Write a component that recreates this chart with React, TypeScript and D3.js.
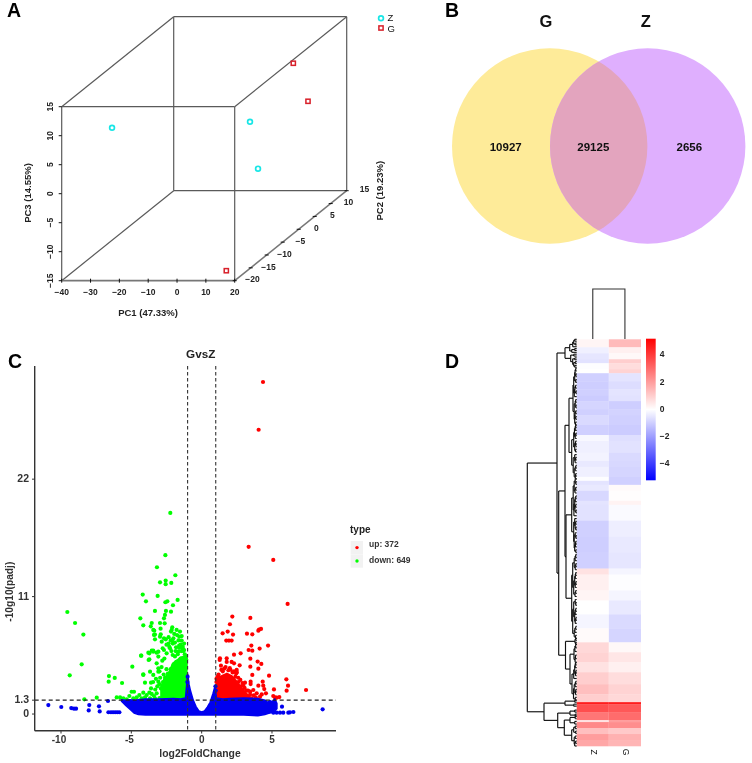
import React from "react";
import * as d3 from "d3";

// ---------- Panel A ----------
const pcaLabels = ["Z", "Z", "Z", "G", "G", "G"];
const pc1 = [-29.2, -2.44, 2.56, 7.03, 14.35, 15.98];
const pc2 = [-14, 5, 3, 10, 8, -19];
const pc3 = [8.72, 1.33, -5.88, 9.19, 3.52, -13.72];
const pc1Ticks = [-40, -30, -20, -10, 0, 10, 20];
const pc2Ticks = [-20, -15, -10, -5, 0, 5, 10, 15];
const pc3Ticks = [-15, -10, -5, 0, 5, 10, 15];

// ---------- Panel B ----------
const vennSets = ["G", "Z"];
const vennCounts = [10927, 29125, 2656];

// ---------- Panel C ----------
const volXTicks = [-10, -5, 0, 5];
const volYTicks = [0, 1.3, 11, 22];
const legendItems = ["up: 372", "down: 649"];
const upX = [4.36,4.05,3.34,5.09,6.11,2.18,3.46,2.01,4.22,4.08,4.03,1.85,1.49,2.23,3.22,3.6,1.75,1.94,2.13,4.72,3.53,3.34,3.6,4.12,2.77,2.3,1.3,1.28,1.78,1.78,2.13,2.3,3.46,3.98,4.24,1.37,2.7,3.46,4.03,2.49,4.79,3.6,6.02,6.14,6.04,7.42,5.14,4.34,3.48,3.08,3.48,4.38,4.03,4.45,3.67,3.91,3.44,4.27,4.57,5.09,5.52,5.21,5.33,3.32,3.55,4.15,2.6,2.8,2.9,3.0,3.1,2.4,2.2,1.9,1.5,1.2,1.1,2.0,2.3,2.45,1.6,2.75,3.2,2.95,1.05,1.15,2.9,3.05,3.3,3.45,3.7,3.85,2.6,1.05,1.4,1.7,2.05,2.5];
const upY = [31.1,26.63,15.66,14.44,10.31,9.13,9.0,8.41,7.97,7.91,7.81,7.72,7.56,7.44,7.53,7.47,6.88,6.88,6.88,6.41,6.41,6.0,5.94,6.13,5.69,5.56,5.22,5.06,5.22,4.88,4.88,4.75,5.19,4.91,4.69,4.53,4.56,4.44,4.25,4.13,3.59,3.66,3.25,2.66,2.19,2.25,2.31,3.03,3.03,2.94,2.81,2.66,2.66,2.34,2.25,1.94,1.81,1.84,1.94,1.69,1.59,1.56,1.53,1.56,1.47,1.63,3.0,2.6,2.2,2.0,1.8,3.5,3.9,4.1,4.0,3.7,3.4,4.3,4.0,3.8,4.25,3.2,2.2,2.7,3.0,3.5,2.9,2.45,2.2,2.1,1.75,1.55,3.4,3.3,4.15,4.4,4.15,3.9];
const downX = [-2.23,-2.58,-3.18,-1.87,-2.96,-2.56,-2.56,-2.16,-4.19,-3.13,-1.71,-3.96,-2.58,-2.44,-2.04,-3.32,-2.54,-2.18,-9.55,-4.36,-2.61,-2.68,-9.0,-3.55,-4.15,-3.62,-2.96,-2.63,-8.41,-3.37,-2.92,-2.09,-2.18,-3.32,-2.96,-3.32,-2.68,-8.53,-9.38,-6.59,-6.61,-6.18,-5.66,-4.93,-8.34,-7.46,-4.29,-4.15,-3.77,-3.79,-3.55,-3.44,-3.2,-3.44,-3.39,-2.91,-2.13,-1.78,-1.54,-1.59,-2.01,-1.9,-1.42,-2.84,-2.77,-2.25,-1.82,-1.35,-1.66,-3.08,-3.44,-3.72,-4.31,-3.72,-3.08,-2.68,-2.49,-2.06,-3.2,-3.08,-4.15,-3.44,-3.08,-3.67,-4.03,-3.6,-3.08,-6.04,-5.8,-5.57,-5.33,-5.14,-4.98,-4.81,-4.62,-4.43,-4.15,-3.91,-3.72,-3.55,-3.39,-3.2,-4.03,-4.27,-4.86,-3.67,-3.32,-2.9,-2.75,-2.6,-2.4,-2.2,-2,-1.8,-1.5,-1.2,-1.1,-3.0,-3.0,-2.7,-2.5,-1.9,-1.7,-1.3,-1.15,-2.35,-1.6,-1.25,-2.1,-2.35,-2.2,-2.05,-1.95,-1.75,-1.65,-1.5,-1.35,-1.25,-1.45,-1.6,-1.85,-2.15,-2.3,-2.5,-2.55,-2.65,-2.8,-2.85,-3.0,-2.95,-3.25,-3.45,-3.15,-3.3,-3.6,-1.42];
const downY = [18.84,14.88,13.75,13.0,12.34,12.5,12.16,12.28,11.19,11.06,10.69,10.56,10.47,10.56,10.19,9.66,9.66,9.59,9.56,8.97,9.28,8.97,8.53,8.53,8.31,8.22,8.53,8.5,7.44,7.81,8.0,8.13,7.72,7.44,7.25,7.0,7.09,4.66,3.63,3.56,3.03,3.38,2.91,4.44,1.38,1.53,5.47,3.66,5.06,5.75,5.94,5.84,5.75,7.88,7.41,7.47,7.88,7.88,7.72,7.25,7.09,6.69,6.88,6.78,6.16,6.16,6.25,6.16,5.84,5.84,5.94,5.69,5.47,5.13,5.38,6.0,5.69,5.53,4.75,4.28,3.72,3.66,3.97,3.97,2.94,2.94,3.03,1.56,1.56,1.47,1.38,1.69,2.09,2.09,1.56,1.78,2.0,1.78,2.0,1.88,1.69,1.94,1.56,1.47,1.47,1.47,1.47,2.4,3.0,3.4,3.8,4.2,4.6,4.9,5.2,5.6,5.1,1.5,2.8,3.7,4.2,5.4,5.6,5.9,4.6,6.6,6.4,6.6,6.9,7.2,6.9,6.6,7.5,7.4,6.9,6.5,6.3,6.0,5.9,6.2,5.9,5.9,6.3,6.5,7.0,5.2,5.0,4.4,4.0,3.4,3.3,3.0,2.6,2.3,2.4,7.3];
const otherX = [-10.9,-9.98,-9.27,-9.08,-8.93,-7.99,-8.03,-7.3,-7.25,-6.66,-6.63,-6.45,-6.3,-6.15,-6,-5.85,8.6,5.71,6.52,6.28,6.16,5.8,5.57,5.33,5.1,-1.0,-1.02,0.98,1.0];
const otherY = [0.84,0.66,0.56,0.5,0.5,0.84,0.34,0.72,0.25,1.22,0.17,0.17,0.17,0.17,0.17,0.17,0.44,0.69,0.19,0.16,0.13,0.13,0.13,0.13,0.13,3.5,3.0,2.6,2.2];
// dense, fully overplotted clouds: outlines
const blueX = [-5.7,-5.4,-5.1,-4.8,-4.5,-4,-3,-2,-1.5,-1.15,-1.05,-1,-0.9,-0.8,-0.6,-0.4,-0.2,0,0.2,0.4,0.6,0.8,0.95,1.05,1.5,2,3,4,4.5,4.7,4.85,5,5.2,5.35];
const blueTop = [1.35,1.3,1.35,1.3,1.35,1.4,1.4,1.45,1.4,1.5,3.0,3.8,2.8,2.2,1.3,0.7,0.3,0.2,0.3,0.65,1.1,1.9,2.6,1.5,1.4,1.45,1.5,1.45,1.3,1.1,1.25,1.15,1.4,1.0];
const blueBottom = [1.2,0.8,0.45,0.1,-0.05,-0.1,-0.1,-0.1,-0.1,-0.1,-0.1,-0.1,-0.1,-0.1,-0.1,-0.1,-0.1,-0.1,-0.1,-0.1,-0.1,-0.1,-0.1,-0.1,-0.1,-0.1,-0.1,-0.15,-0.05,0.05,0.1,0.15,0.3,0.5];
const greenCloudX = [-2.95,-2.7,-2.4,-2.1,-1.5,-1];
const greenCloudTop = [2.6,3.4,3.9,4.8,5.4,5.6];
const redCloudX = [1,1.15,1.8,2.2,2.6,3,3.5];
const redCloudTop = [3.0,3.5,3.9,3.6,3.0,2.3,1.6];

// ---------- Panel D ----------
const heatColumns = ["Z", "G"];
const heatCounts = [4,3,3,2,3,2,4,4,3,3,4,3,5,5,3,6,4,3,5,2,2,3,5,2,8,8,8,8,3,8,5,7,7,7,5,5,5,6,5,4,1,4,4,1,3,3,3,3];
const heatZ = [0.2,-0.3,-0.5,-0.6,-0.05,0,-0.95,-1,-0.95,-1.05,-0.85,-0.95,-0.75,-0.95,-0.15,-0.3,-0.25,-0.45,-0.3,-0.05,-0.55,-0.45,-0.8,-0.55,-0.6,-0.95,-1,-0.95,0.6,0.3,0.2,0,-0.2,0.1,0.8,0.9,0.6,1,1.3,1,4.6,3.6,2.8,0.6,2.4,1.3,2,1.8];
const heatG = [1.4,0.3,0.15,1,0.7,0.9,-0.55,-0.7,-0.55,-0.6,-1,-0.9,-0.95,-1.05,-0.65,-0.6,-0.75,-0.8,-0.85,-0.95,-0.95,0.1,0.05,0.25,-0.1,-0.35,-0.45,-0.5,-0.2,-0.05,-0.2,-0.45,-0.75,-0.85,0.15,0.5,0.3,0.7,0.9,0.8,4.6,3.4,3,2,2.3,1.1,1.6,1.5];
const colorTicks = [4, 2, 0, -2, -4];

// Dendrogram: leaf ranges with adjacent merge heights
type Cluster = { from: number; to: number; gaps: number[] };
type Node = [number, Node | Cluster, Node | Cluster] | Cluster;
const dendroTree: Node = [49.4,
  [19.7,
    { from: 0, to: 14, gaps: [2,3,1.5,4,7,2,5,11.7,3,6,2,4,1.5,3,2] },
    [18,
      [11.7,
        [7.7,
          { from: 14.5, to: 43, gaps: [1,1.6,0.8,2,1,3,1.2,1.8,0.7,2.4,3.7,1,1.5,0.8,2.5,1,1.7,0.9,2,1.2] },
          { from: 43, to: 70, gaps: [1,1.5,2.2,0.8,1.5,3,1.2,0.9,2,1.2,5,2,1,1.6,3.5,0.9,1.5,2.5,1,1.4] }],
        [10.7,
          { from: 70, to: 107, gaps: [1.5,0.8,2.5,1,1.7,3.5,0.9,1.5,2,1,1.8,0.8,2.8,5,2,1,1.6,0.9,3,1.5,0.8,2.5,1,1.3,2,0.9] },
          { from: 108, to: 150, gaps: [1,1.6,2.5,0.9,1.5,4,1,1.4,2,0.8,1.5,3,1,1.7,5,1.5,0.9,3,1,1.6,2,0.8,1.5,4,1,1.8,2.5,1.2] }]],
      [11.2,
        { from: 150, to: 153, gaps: [1,1.7,1] },
        [6.7,
          { from: 153, to: 162, gaps: [1,1.8,2.7,1.2,1.6] },
          { from: 162, to: 181, gaps: [1,1.5,2,0.8,1.2,3,4.7,1,1.6,2.5,0.9,1.2,3.2,1.5] }]]]],
  [32.7,
    { from: 181, to: 184, gaps: [2,11.7,3] },
    [19,
      { from: 186, to: 189, gaps: [2,6.7,1.5] },
      [12.4,
        { from: 189, to: 193, gaps: [1.5,6.7,2] },
        { from: 194, to: 204, gaps: [1.5,3,1,5,1.5,2.5,1,2] }]]]];

const FONT = "'Liberation Sans', Arial, sans-serif";

function Pca() {
  const x = d3.scaleLinear().domain([-40, 20]).range([61.7, 234.7]);
  const y = d3.scaleLinear().domain([-15, 15]).range([280.7, 106.7]);
  const dx = d3.scaleLinear().domain([-20, 15]).range([0, 112]);
  const dy = d3.scaleLinear().domain([-20, 15]).range([0, -90]);
  const [x0, x1, y0, y1] = [x(-40), x(20), y(-15), y(15)];
  const ox = dx(15), oy = dy(15);
  const edges = [
    [x0, y1, x1, y1], [x0, y1, x0, y0], [x1, y1, x1, y0],
    [x0, y0, x0 + ox, y0 + oy], [x0, y1, x0 + ox, y1 + oy], [x1, y1, x1 + ox, y1 + oy],
    [x0 + ox, y1 + oy, x1 + ox, y1 + oy], [x0 + ox, y1 + oy, x0 + ox, y0 + oy],
    [x1 + ox, y1 + oy, x1 + ox, y0 + oy], [x0 + ox, y0 + oy, x1 + ox, y0 + oy],
  ];
  const txt = { fontFamily: FONT, fontWeight: 700, fontSize: 8.5, fill: "#222", textAnchor: "middle" as const, dominantBaseline: "middle" as const };
  const lab = { ...txt, fontSize: 9.5 };
  return (
    <g>
      {edges.map((e, i) => <line key={i} x1={e[0]} y1={e[1]} x2={e[2]} y2={e[3]} stroke="#5a5a5a" strokeWidth={1.2} />)}
      <line x1={x0} y1={y0} x2={x1} y2={y0} stroke="#777" strokeWidth={1.8} />
      <line x1={x1} y1={y0} x2={x1 + ox} y2={y0 + oy} stroke="#777" strokeWidth={1.5} />
      {pc1Ticks.map(t => (
        <g key={t}>
          <line x1={x(t)} x2={x(t)} y1={y0 - 2} y2={y0 + 2} stroke="#111" strokeWidth={1} />
          <text x={x(t)} y={292.3} {...txt}>{String(t).replace("-", "\u2212")}</text>
        </g>
      ))}
      {pc3Ticks.map(t => (
        <g key={t}>
          <line x1={x0 - 3} x2={x0} y1={y(t)} y2={y(t)} stroke="#111" strokeWidth={1} />
          <text transform={`translate(50.7,${y(t)}) rotate(-90)`} {...txt}>{String(t).replace("-", "\u2212")}</text>
        </g>
      ))}
      {pc2Ticks.map(t => (
        <g key={t}>
          <line x1={x1 + dx(t) - 2} x2={x1 + dx(t) + 2} y1={y0 + dy(t)} y2={y0 + dy(t)} stroke="#111" strokeWidth={1} />
          <text x={x1 + dx(t) + 17.7} y={y0 + dy(t) - 0.5} {...txt}>{String(t).replace("-", "\u2212")}</text>
        </g>
      ))}
      <text x={148} y={313.7} {...lab}>PC1 (47.33%)</text>
      <text transform="translate(28,193) rotate(-90)" {...lab}>PC3 (14.55%)</text>
      <text transform="translate(380.7,190.7) rotate(-90)" {...lab}>PC2 (19.23%)</text>
      {pcaLabels.map((l, i) => {
        const px = x(pc1[i]) + dx(pc2[i]);
        const py = y(pc3[i]) + dy(pc2[i]);
        return l === "Z"
          ? <circle key={i} cx={px} cy={py} r={2.4} fill="none" stroke="#18e6e6" strokeWidth={1.7} />
          : <rect key={i} x={px - 2.1} y={py - 2.1} width={4.2} height={4.2} fill="none" stroke="#d8202a" strokeWidth={1.5} />;
      })}
      <circle cx={381} cy={18.3} r={2.4} fill="none" stroke="#18e6e6" strokeWidth={1.7} />
      <rect x={378.9} y={25.9} width={4.2} height={4.2} fill="none" stroke="#d8202a" strokeWidth={1.5} />
      <text x={387.5} y={18} fontFamily={FONT} fontSize={9.5} fill="#111" dominantBaseline="middle">Z</text>
      <text x={387.5} y={29.5} fontFamily={FONT} fontSize={9.5} fill="#111" dominantBaseline="middle">G</text>
    </g>
  );
}

function Venn() {
  const r = 97.7, cy = 146;
  const cx = d3.scalePoint<string>().domain(vennSets).range([549.7, 647.7]);
  const cG = cx("G")!, cZ = cx("Z")!;
  const numX = [505.7, 593.3, 689.3];
  return (
    <g>
      <defs><clipPath id="vennClip"><circle cx={cG} cy={cy} r={r} /></clipPath></defs>
      <circle cx={cG} cy={cy} r={r} fill="#FEEB99" />
      <circle cx={cZ} cy={cy} r={r} fill="#DFAFFE" />
      <circle cx={cZ} cy={cy} r={r} fill="#E3A4BE" clipPath="url(#vennClip)" />
      {vennCounts.map((v, i) => (
        <text key={i} x={numX[i]} y={147.7} fontFamily={FONT} fontWeight={700} fontSize={11.5} fill="#111" textAnchor="middle" dominantBaseline="middle">{v}</text>
      ))}
      {vennSets.map((s, i) => (
        <text key={s} x={[546, 645.7][i]} y={23} fontFamily={FONT} fontWeight={700} fontSize={16.5} fill="#111" textAnchor="middle" dominantBaseline="middle">{s}</text>
      ))}
    </g>
  );
}

function Volcano() {
  const x = d3.scaleLinear().domain([-11.87, 9.55]).range([34.7, 336]);
  const y = d3.scaleLinear().domain([-1.56, 32.6]).range([730.7, 366]);
  const area = (X: number[], T: number[], B: number[] | number) =>
    d3.area<number>()
      .x((_, i) => x(X[i]))
      .y0((_, i) => y(Array.isArray(B) ? B[i] : B))
      .y1((_, i) => y(T[i]))(X) as string;
  const txt = { fontFamily: FONT, fontWeight: 700, fill: "#333", dominantBaseline: "middle" as const };
  const R = 2.1;
  return (
    <g>
      <path d={area(greenCloudX, greenCloudTop, 1.3)} fill="#00ff00" />
      {downX.map((v, i) => <circle key={i} cx={x(v)} cy={y(downY[i])} r={R} fill="#00ff00" />)}
      <path d={area(redCloudX, redCloudTop, 1.3)} fill="#ff0000" />
      {upX.map((v, i) => <circle key={i} cx={x(v)} cy={y(upY[i])} r={R} fill="#ff0000" />)}
      <path d={area(blueX, blueTop, blueBottom)} fill="#0000f0" stroke="#0000f0" strokeWidth={1.5} />
      {otherX.map((v, i) => <circle key={i} cx={x(v)} cy={y(otherY[i])} r={R} fill="#0000f0" />)}
      {[-1, 1].map(v => <line key={v} x1={x(v)} x2={x(v)} y1={366} y2={730.7} stroke="#333" strokeWidth={1.1} strokeDasharray="3.5 2.5" />)}
      <line x1={34.7} x2={336} y1={y(1.3)} y2={y(1.3)} stroke="#222" strokeWidth={1.1} strokeDasharray="4 3" />
      <line x1={34.7} x2={34.7} y1={366} y2={730.7} stroke="#333" strokeWidth={1.4} />
      <line x1={34.7} x2={336} y1={730.7} y2={730.7} stroke="#333" strokeWidth={1.4} />
      {volXTicks.map(t => (
        <g key={t}>
          <line x1={x(t)} x2={x(t)} y1={730.7} y2={733.5} stroke="#333" />
          <text x={x(t) - (t < 0 ? 2 : 0)} y={740.5} fontSize={10} textAnchor="middle" {...txt}>{t}</text>
        </g>
      ))}
      {volYTicks.map(t => (
        <g key={t}>
          <line x1={32} x2={34.7} y1={y(t)} y2={y(t)} stroke="#333" />
          <text x={29} y={y(t) + 0.5} fontSize={10.5} textAnchor="end" {...txt}>{t}</text>
        </g>
      ))}
      <text x={200} y={754} fontSize={10.4} textAnchor="middle" {...txt}>log2FoldChange</text>
      <text transform="translate(10,591.7) rotate(-90)" fontSize={10.2} textAnchor="middle" {...txt}>-10g10(padj)</text>
      <text x={200.7} y={354.7} fontSize={11.7} textAnchor="middle" {...txt} fill="#222">GvsZ</text>
      <text x={350} y={530} fontSize={10} {...txt} fill="#222">type</text>
      {legendItems.map((l, i) => (
        <g key={l}>
          <rect x={350.7} y={541 + i * 13.4} width={12.3} height={13.3} fill="#f2f2f2" />
          <circle cx={357} cy={547.6 + i * 13.4} r={1.7} fill={i === 0 ? "#ff0000" : "#00ff00"} />
          <text x={369} y={545 + i * 16} fontSize={8.5} {...txt}>{l}</text>
        </g>
      ))}
    </g>
  );
}

function Heatmap() {
  const total = d3.sum(heatCounts);
  const rowY = d3.scaleLinear().domain([0, total]).range([339.3, 746]);
  const colX = d3.scaleBand().domain(heatColumns).range([576.7, 641]);
  const hX = d3.scaleLinear().domain([0, 49.4]).range([576.7, 527.3]);
  const barY = d3.scaleLinear().domain([5.2, -5.2]).range([338.7, 480.3]);
  const color = d3.scaleLinear<string>().domain([-5.2, 0, 5.2]).range(["#0000ff", "#ffffff", "#ff0000"]);
  const cum = d3.cumsum(heatCounts);
  const stops = d3.range(-5.2, 5.21, 1.04);

  const segs: number[][] = [];
  const fromGaps = (leaf: number[], gaps: number[]): { y: number; h: number } => {
    if (leaf.length === 1) return { y: leaf[0], h: 0 };
    const m = d3.maxIndex(gaps);
    const a = fromGaps(leaf.slice(0, m + 1), gaps.slice(0, m));
    const b = fromGaps(leaf.slice(m + 1), gaps.slice(m + 1));
    return join(gaps[m], a, b);
  };
  const join = (h: number, a: { y: number; h: number }, b: { y: number; h: number }) => {
    segs.push([h, a.y, h, b.y], [a.h, a.y, h, a.y], [b.h, b.y, h, b.y]);
    return { y: (a.y + b.y) / 2, h };
  };
  const walk = (n: Node): { y: number; h: number } => {
    if (!Array.isArray(n)) {
      const leaf = d3.range(n.gaps.length + 1).map(i => n.from + (i * (n.to - n.from)) / n.gaps.length);
      return fromGaps(leaf, n.gaps);
    }
    return join(n[0], walk(n[1]), walk(n[2]));
  };
  walk(dendroTree);

  const cZ = colX("Z")! + colX.bandwidth() / 2;
  const cG = colX("G")! + colX.bandwidth() / 2;
  return (
    <g>
      <defs>
        <linearGradient id="cbar" x1="0" y1="1" x2="0" y2="0">
          {stops.map((s, i) => <stop key={i} offset={(s + 5.2) / 10.4} stopColor={color(s)} />)}
        </linearGradient>
      </defs>
      <g style={{ filter: "blur(0.6px)" }}>
        {heatCounts.map((c, i) => (
          <g key={i}>
            <rect x={colX("Z")} width={colX.bandwidth()} y={rowY(cum[i] - c)} height={rowY(cum[i]) - rowY(cum[i] - c) + 0.3} fill={color(heatZ[i])} />
            <rect x={colX("G")} width={colX.bandwidth()} y={rowY(cum[i] - c)} height={rowY(cum[i]) - rowY(cum[i] - c) + 0.3} fill={color(heatG[i])} />
          </g>
        ))}
      </g>
      {segs.map((s, i) => (
        <line key={i} x1={hX(s[0])} y1={rowY(s[1])} x2={hX(s[2])} y2={rowY(s[3])} stroke="#111" strokeWidth={1.15} />
      ))}
      <path d={`M${cZ},339 V289 H${cG} V339`} fill="none" stroke="#333" strokeWidth={1.1} />
      <rect x={646} y={338.7} width={9.7} height={141.6} fill="url(#cbar)" />
      {colorTicks.map(t => (
        <text key={t} x={659.7} y={barY(t)} fontFamily={FONT} fontWeight={700} fontSize={8.5} fill="#222" dominantBaseline="middle">{String(t).replace("-", "\u2212")}</text>
      ))}
      {heatColumns.map(c => (
        <text key={c} transform={`translate(${colX(c)! + colX.bandwidth() / 2},752) rotate(90)`} fontFamily={FONT} fontSize={8.5} fill="#111" textAnchor="middle" dominantBaseline="middle">{c}</text>
      ))}
    </g>
  );
}

export default function App() {
  const letters: [string, number, number][] = [["A", 7, 17], ["B", 445, 17], ["C", 8, 368], ["D", 445, 368]];
  return (
    <svg width={752} height={763} viewBox="0 0 752 763"
      style={{ position: "absolute", left: 0, top: 0, display: "block", background: "#fff", filter: "blur(0.35px)" }}>
      <Pca />
      <Venn />
      <Volcano />
      <Heatmap />
      {letters.map(([t, x, y]) => (
        <text key={t} x={x} y={y} fontFamily={FONT} fontWeight={700} fontSize={19.5} fill="#000">{t}</text>
      ))}
    </svg>
  );
}
